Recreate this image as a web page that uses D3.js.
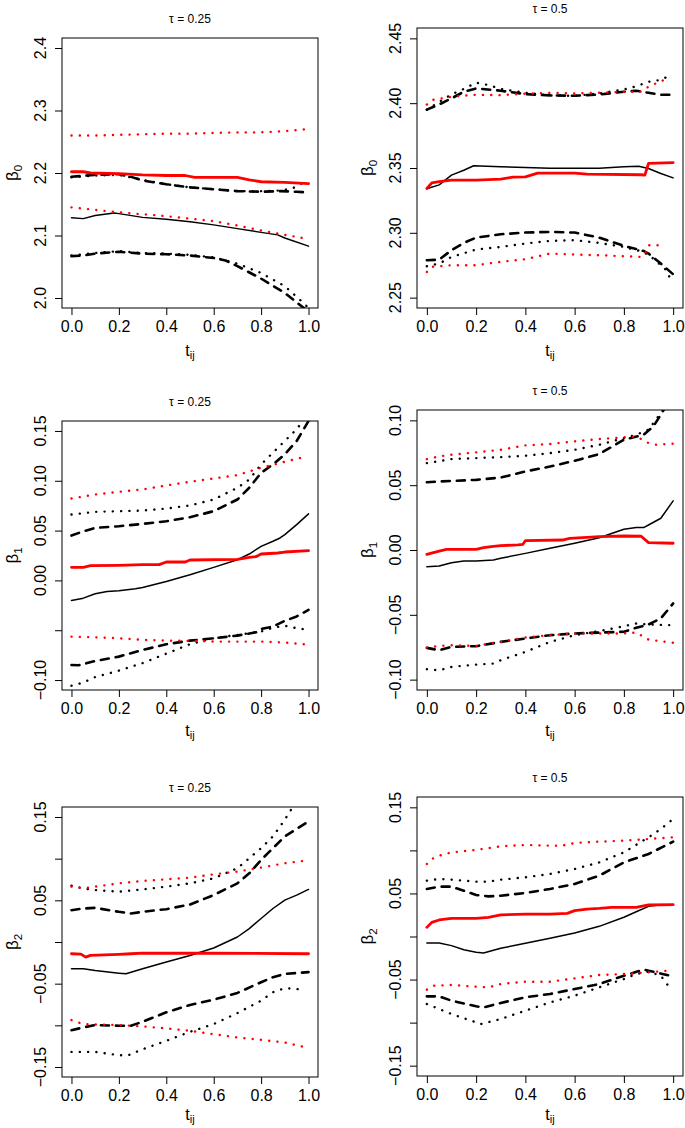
<!DOCTYPE html>
<html>
<head>
<meta charset="utf-8">
<script src="https://cdn.jsdelivr.net/npm/d3@7"></script>
<style>
  body { margin: 0; background: #fff; }
  svg { display: block; font-family: "Liberation Sans", Arial, Helvetica, sans-serif; }
</style>
</head>
<body>
<svg id="chart" width="685" height="1128"></svg>
<script>
// x ticks shared by all panels
const xTicks = [0, 0.2, 0.4, 0.6, 0.8, 1.0];

// ---- beta0, tau = 0.25 ----
const b0_25_est    = [[0,2.1285],[0.05,2.127],[0.1,2.132],[0.18,2.136],[0.2,2.135],[0.3,2.129],[0.4,2.126],[0.5,2.122],[0.6,2.117],[0.7,2.111],[0.8,2.105],[0.87,2.101],[0.9,2.096],[1,2.083]];
const b0_25_dashHi = [[0,2.194],[0.1,2.197],[0.2,2.198],[0.25,2.194],[0.3,2.188],[0.4,2.182],[0.5,2.177],[0.6,2.174],[0.7,2.171],[0.8,2.170],[0.88,2.171],[0.95,2.170],[1,2.169]];
const b0_25_dotHi  = [[0,2.193],[0.1,2.196],[0.2,2.197],[0.3,2.189],[0.4,2.182],[0.5,2.177],[0.6,2.174],[0.7,2.171],[0.8,2.171],[0.88,2.172],[0.93,2.175],[0.97,2.183]];
const b0_25_dashLo = [[0,2.067],[0.05,2.068],[0.1,2.071],[0.2,2.074],[0.3,2.071],[0.4,2.070],[0.5,2.068],[0.6,2.064],[0.65,2.060],[0.7,2.051],[0.8,2.031],[0.9,2.008],[0.96,1.990],[1,1.978]];
const b0_25_dotLo  = [[0,2.068],[0.1,2.072],[0.2,2.075],[0.3,2.072],[0.4,2.071],[0.5,2.069],[0.6,2.065],[0.7,2.055],[0.8,2.040],[0.9,2.019],[0.97,1.995],[1,1.984]];
const b0_25_redEst = [[0,2.202],[0.05,2.202],[0.08,2.200],[0.2,2.199],[0.3,2.197],[0.4,2.196],[0.48,2.196],[0.52,2.193],[0.7,2.193],[0.75,2.189],[0.8,2.186],[0.9,2.185],[1,2.183]];
const b0_25_redHi  = [[0,2.260],[0.1,2.260],[0.2,2.261],[0.3,2.262],[0.4,2.263],[0.5,2.263],[0.6,2.264],[0.7,2.265],[0.8,2.265],[0.9,2.267],[0.99,2.270]];
const b0_25_redLo  = [[0,2.145],[0.1,2.141],[0.2,2.137],[0.3,2.134],[0.4,2.131],[0.5,2.127],[0.6,2.123],[0.7,2.116],[0.8,2.108],[0.9,2.101],[0.99,2.095]];

// ---- beta0, tau = 0.5 ----
const b0_50_est    = [[0,2.334],[0.05,2.337],[0.1,2.3445],[0.15,2.3483],[0.19,2.3517],[0.3,2.3509],[0.4,2.3504],[0.5,2.3499],[0.6,2.3499],[0.7,2.3499],[0.8,2.3509],[0.86,2.3514],[0.9,2.3496],[0.95,2.3458],[1,2.3424]];
const b0_50_dashHi = [[0,2.395],[0.05,2.399],[0.1,2.4037],[0.15,2.4088],[0.2,2.4114],[0.3,2.4096],[0.4,2.407],[0.5,2.406],[0.6,2.4057],[0.7,2.4067],[0.8,2.4088],[0.85,2.4096],[0.9,2.408],[0.95,2.4065],[1,2.4065]];
const b0_50_dotHi  = [[0,2.395],[0.05,2.401],[0.1,2.4068],[0.15,2.411],[0.2,2.4158],[0.25,2.414],[0.3,2.411],[0.4,2.408],[0.5,2.406],[0.6,2.4057],[0.7,2.4075],[0.8,2.4106],[0.85,2.413],[0.9,2.4165],[0.95,2.418],[0.99,2.4217]];
const b0_50_dashLo = [[0,2.2788],[0.05,2.2793],[0.1,2.2866],[0.15,2.2922],[0.2,2.2963],[0.3,2.2989],[0.4,2.3002],[0.5,2.3007],[0.6,2.3002],[0.7,2.2963],[0.8,2.2899],[0.88,2.286],[0.9,2.284],[0.95,2.2763],[1,2.268]];
const b0_50_dotLo  = [[0,2.2742],[0.05,2.2763],[0.1,2.2814],[0.2,2.2871],[0.3,2.2891],[0.4,2.2917],[0.5,2.2938],[0.6,2.2943],[0.7,2.2922],[0.8,2.2891],[0.88,2.2853],[0.92,2.2801],[0.97,2.2716],[0.99,2.2642]];
const b0_50_redEst = [[0,2.3342],[0.02,2.3385],[0.05,2.3395],[0.1,2.3406],[0.2,2.3406],[0.3,2.3414],[0.35,2.343],[0.4,2.3432],[0.45,2.346],[0.6,2.346],[0.65,2.3452],[0.87,2.3448],[0.885,2.3445],[0.9,2.3535],[1,2.3542]];
const b0_50_redHi  = [[0,2.399],[0.02,2.4024],[0.1,2.405],[0.2,2.4065],[0.3,2.4062],[0.4,2.4073],[0.5,2.408],[0.6,2.4075],[0.7,2.408],[0.8,2.4088],[0.87,2.409],[0.9,2.4127],[0.95,2.417],[0.97,2.4183]];
const b0_50_redLo  = [[0,2.2698],[0.02,2.2737],[0.1,2.275],[0.2,2.275],[0.3,2.2776],[0.4,2.2796],[0.5,2.284],[0.6,2.2832],[0.7,2.2827],[0.8,2.2819],[0.87,2.2814],[0.89,2.2853],[0.9,2.2904],[0.97,2.2904]];

// ---- beta1, tau = 0.25 ----
const b1_25_est    = [[0,-0.0201],[0.05,-0.0178],[0.1,-0.0134],[0.15,-0.0111],[0.2,-0.0104],[0.27,-0.0084],[0.3,-0.0071],[0.4,-0.001],[0.5,0.0057],[0.6,0.0131],[0.7,0.0208],[0.75,0.0265],[0.8,0.0342],[0.85,0.0393],[0.88,0.0426],[0.9,0.046],[0.95,0.056],[1,0.0668]];
const b1_25_dashHi = [[0,0.045],[0.05,0.0493],[0.1,0.0527],[0.2,0.0544],[0.3,0.0567],[0.4,0.0594],[0.5,0.0634],[0.6,0.0695],[0.7,0.0812],[0.75,0.093],[0.8,0.108],[0.85,0.1164],[0.9,0.1265],[0.95,0.1399],[1,0.16]];
const b1_25_dotHi  = [[0,0.0661],[0.1,0.0688],[0.2,0.0695],[0.3,0.0701],[0.4,0.0721],[0.5,0.0752],[0.6,0.0812],[0.7,0.093],[0.75,0.1013],[0.8,0.1164],[0.85,0.1282],[0.9,0.14],[0.95,0.1517],[1,0.168]];
const b1_25_dashLo = [[0,-0.0849],[0.03,-0.0852],[0.1,-0.0809],[0.2,-0.0765],[0.3,-0.0698],[0.4,-0.0641],[0.5,-0.0604],[0.6,-0.0581],[0.7,-0.0554],[0.78,-0.052],[0.8,-0.0487],[0.85,-0.0463],[0.9,-0.0406],[0.95,-0.0362],[1,-0.0295]];
const b1_25_dotLo  = [[0,-0.1057],[0.05,-0.1025],[0.1,-0.097],[0.2,-0.0905],[0.3,-0.083],[0.4,-0.0735],[0.5,-0.064],[0.6,-0.058],[0.7,-0.0547],[0.8,-0.0513],[0.85,-0.0475],[0.9,-0.0455],[0.95,-0.048],[1,-0.0497]];
const b1_25_redEst = [[0,0.0131],[0.05,0.0131],[0.08,0.0148],[0.2,0.0151],[0.3,0.0158],[0.37,0.0158],[0.4,0.0185],[0.48,0.0185],[0.5,0.0205],[0.7,0.0211],[0.75,0.0232],[0.78,0.024],[0.8,0.0265],[0.87,0.0275],[0.9,0.0285],[1,0.0299]];
const b1_25_redHi  = [[0,0.0822],[0.1,0.0862],[0.2,0.0889],[0.3,0.0913],[0.4,0.0953],[0.5,0.099],[0.6,0.1023],[0.7,0.1057],[0.8,0.1131],[0.9,0.1191],[0.97,0.1232]];
const b1_25_redLo  = [[0,-0.0564],[0.1,-0.0571],[0.2,-0.0581],[0.3,-0.0597],[0.4,-0.0604],[0.5,-0.0607],[0.6,-0.0614],[0.7,-0.0614],[0.8,-0.0614],[0.9,-0.0624],[0.98,-0.0641]];

// ---- beta1, tau = 0.5 ----
const b1_50_est    = [[0,-0.0129],[0.05,-0.0124],[0.1,-0.0098],[0.15,-0.0085],[0.2,-0.0085],[0.27,-0.0077],[0.3,-0.0064],[0.4,-0.0026],[0.5,0.0013],[0.6,0.0052],[0.7,0.0095],[0.8,0.016],[0.85,0.0173],[0.88,0.0173],[0.9,0.0193],[0.95,0.0245],[1,0.0379]];
const b1_50_dashHi = [[0,0.0523],[0.1,0.0533],[0.2,0.0541],[0.3,0.0559],[0.4,0.0606],[0.5,0.0644],[0.6,0.0688],[0.7,0.074],[0.8,0.085],[0.88,0.0889],[0.92,0.0954],[0.95,0.1044],[1,0.12]];
const b1_50_dotHi  = [[0,0.067],[0.1,0.0701],[0.2,0.0709],[0.3,0.0716],[0.4,0.0727],[0.5,0.0747],[0.6,0.0773],[0.7,0.0812],[0.8,0.0863],[0.85,0.0889],[0.9,0.0928],[0.95,0.1057],[1,0.118]];
const b1_50_dashLo = [[0,-0.0755],[0.05,-0.0773],[0.1,-0.0747],[0.2,-0.0742],[0.3,-0.0709],[0.4,-0.0683],[0.5,-0.0657],[0.6,-0.0644],[0.7,-0.0637],[0.8,-0.0631],[0.85,-0.06],[0.9,-0.0575],[0.95,-0.0528],[1,-0.0412]];
const b1_50_dotLo  = [[0,-0.092],[0.05,-0.0928],[0.1,-0.0902],[0.2,-0.0884],[0.27,-0.0876],[0.3,-0.085],[0.4,-0.0786],[0.5,-0.0709],[0.6,-0.0657],[0.7,-0.0626],[0.8,-0.0588],[0.85,-0.0567],[0.9,-0.0575],[1,-0.058]];
const b1_50_redEst = [[0,-0.0034],[0.05,-0.0008],[0.08,0.0005],[0.2,0.0005],[0.23,0.0018],[0.27,0.0028],[0.3,0.0034],[0.37,0.0039],[0.39,0.0044],[0.4,0.0072],[0.55,0.0077],[0.58,0.009],[0.65,0.0098],[0.7,0.0103],[0.8,0.0108],[0.87,0.0106],[0.9,0.0057],[1,0.0052]];
const b1_50_redHi  = [[0,0.0701],[0.05,0.0722],[0.1,0.0735],[0.2,0.0753],[0.3,0.0773],[0.4,0.0807],[0.5,0.0817],[0.6,0.0838],[0.7,0.0856],[0.8,0.0869],[0.85,0.0876],[0.9,0.0825],[0.93,0.0812],[1,0.082]];
const b1_50_redLo  = [[0,-0.0753],[0.05,-0.074],[0.1,-0.0735],[0.2,-0.074],[0.3,-0.0709],[0.4,-0.0675],[0.5,-0.0657],[0.6,-0.0644],[0.7,-0.0644],[0.8,-0.0644],[0.85,-0.0637],[0.9,-0.0691],[1,-0.0716]];

// ---- beta2, tau = 0.25 ----
const b2_25_est    = [[0,-0.0322],[0.05,-0.0322],[0.1,-0.0342],[0.2,-0.0374],[0.23,-0.0382],[0.3,-0.0322],[0.4,-0.0241],[0.5,-0.0161],[0.6,-0.0072],[0.7,0.006],[0.75,0.0161],[0.8,0.0282],[0.85,0.0402],[0.9,0.0503],[0.95,0.0563],[1,0.0631]];
const b2_25_dashHi = [[0,0.0382],[0.05,0.0402],[0.1,0.041],[0.2,0.0362],[0.25,0.0342],[0.3,0.0362],[0.4,0.0394],[0.5,0.045],[0.6,0.0563],[0.7,0.0704],[0.75,0.0824],[0.8,0.0985],[0.85,0.1126],[0.9,0.1267],[1,0.1448]];
const b2_25_dotHi  = [[0,0.0676],[0.05,0.0643],[0.1,0.0623],[0.2,0.0603],[0.3,0.0631],[0.4,0.0664],[0.5,0.0704],[0.6,0.0764],[0.7,0.0885],[0.8,0.1126],[0.85,0.1267],[0.9,0.1468],[0.92,0.156],[1,0.19]];
const b2_25_dashLo = [[0,-0.1058],[0.05,-0.1025],[0.1,-0.0997],[0.2,-0.1005],[0.25,-0.1005],[0.3,-0.0957],[0.4,-0.0844],[0.5,-0.0756],[0.6,-0.0692],[0.7,-0.0611],[0.8,-0.0483],[0.85,-0.0422],[0.9,-0.0382],[1,-0.0362]];
const b2_25_dotLo  = [[0,-0.1319],[0.1,-0.1319],[0.2,-0.1359],[0.24,-0.1359],[0.3,-0.1287],[0.4,-0.1186],[0.5,-0.1078],[0.6,-0.0985],[0.7,-0.0853],[0.8,-0.0704],[0.85,-0.0603],[0.9,-0.0555],[0.95,-0.0563],[0.98,-0.0583]];
const b2_25_redEst = [[0,-0.0141],[0.04,-0.0145],[0.06,-0.0181],[0.08,-0.0161],[0.2,-0.0149],[0.25,-0.0141],[0.3,-0.0133],[0.6,-0.0135],[1,-0.0141]];
const b2_25_redHi  = [[0,0.0664],[0.05,0.0643],[0.1,0.0664],[0.2,0.0704],[0.3,0.0732],[0.4,0.0752],[0.5,0.0772],[0.6,0.0812],[0.7,0.0845],[0.8,0.0893],[0.9,0.0945],[0.98,0.0973]];
const b2_25_redLo  = [[0,-0.0937],[0.05,-0.0985],[0.1,-0.0989],[0.2,-0.0997],[0.3,-0.1013],[0.4,-0.1037],[0.5,-0.1066],[0.6,-0.1106],[0.7,-0.1146],[0.8,-0.1174],[0.9,-0.1206],[0.98,-0.1259]];

// ---- beta2, tau = 0.5 ----
const b2_50_est    = [[0,-0.0075],[0.05,-0.0075],[0.1,-0.0106],[0.15,-0.0153],[0.2,-0.0184],[0.23,-0.0192],[0.3,-0.0137],[0.4,-0.0079],[0.5,-0.0021],[0.6,0.0041],[0.7,0.0118],[0.8,0.0223],[0.85,0.0288],[0.9,0.035],[0.95,0.037],[1,0.037]];
const b2_50_dashHi = [[0,0.0552],[0.05,0.0579],[0.1,0.0579],[0.15,0.0532],[0.2,0.0482],[0.25,0.0466],[0.3,0.0474],[0.4,0.0505],[0.5,0.0552],[0.6,0.061],[0.7,0.0706],[0.8,0.0861],[0.9,0.0958],[1,0.1101]];
const b2_50_dotHi  = [[0,0.0648],[0.05,0.0668],[0.1,0.066],[0.2,0.0637],[0.25,0.0637],[0.3,0.066],[0.4,0.0687],[0.5,0.0726],[0.6,0.0784],[0.7,0.0861],[0.8,0.0977],[0.9,0.1152],[0.95,0.1248],[1,0.1365]];
const b2_50_dashLo = [[0,-0.0695],[0.05,-0.0695],[0.1,-0.0745],[0.2,-0.0811],[0.23,-0.0823],[0.3,-0.0772],[0.4,-0.0706],[0.5,-0.0668],[0.6,-0.061],[0.7,-0.0552],[0.8,-0.0455],[0.88,-0.0385],[0.9,-0.0397],[1,-0.0463]];
const b2_50_dotLo  = [[0,-0.0784],[0.05,-0.0842],[0.1,-0.09],[0.2,-0.0997],[0.22,-0.1016],[0.3,-0.0958],[0.4,-0.0861],[0.5,-0.0765],[0.6,-0.0687],[0.7,-0.059],[0.8,-0.0494],[0.85,-0.0436],[0.9,-0.0408],[0.95,-0.0455],[0.99,-0.061]];
const b2_50_redEst = [[0,0.0106],[0.02,0.0164],[0.05,0.0192],[0.1,0.0211],[0.2,0.0211],[0.25,0.0223],[0.3,0.025],[0.4,0.0261],[0.5,0.0261],[0.57,0.0269],[0.6,0.03],[0.65,0.0319],[0.7,0.0327],[0.75,0.0339],[0.85,0.0339],[0.9,0.0366],[1,0.037]];
const b2_50_redHi  = [[0,0.0842],[0.02,0.09],[0.05,0.0939],[0.1,0.0977],[0.2,0.1005],[0.3,0.1047],[0.4,0.1063],[0.5,0.1055],[0.55,0.1055],[0.6,0.1086],[0.7,0.1101],[0.8,0.1113],[0.9,0.1132],[1,0.1152]];
const b2_50_redLo  = [[0,-0.0617],[0.03,-0.0571],[0.1,-0.0563],[0.2,-0.0583],[0.25,-0.059],[0.3,-0.0552],[0.4,-0.0525],[0.5,-0.0525],[0.6,-0.0486],[0.7,-0.0447],[0.8,-0.0436],[0.9,-0.0416],[0.98,-0.0397]];

// axis limits / ticks
const b0_25_ylim = [2.0, 2.4],   b0_25_ticks = [2.0, 2.1, 2.2, 2.3, 2.4],  b0_25_labels = ["2.0","2.1","2.2","2.3","2.4"];
const b0_50_ylim = [2.25, 2.45], b0_50_ticks = [2.25, 2.30, 2.35, 2.40, 2.45], b0_50_labels = ["2.25","2.30","2.35","2.40","2.45"];
const b1_25_ylim = [-0.10, 0.15], b1_25_ticks = [-0.10, -0.05, 0, 0.05, 0.10, 0.15], b1_25_labels = ["\u22120.10","","0.00","0.05","0.10","0.15"];
const b1_50_ylim = [-0.10, 0.10], b1_50_ticks = [-0.10, -0.05, 0, 0.05, 0.10], b1_50_labels = ["\u22120.10","\u22120.05","0.00","0.05","0.10"];
const b2_ylim = [-0.15, 0.15], b2_ticks = [-0.15, -0.10, -0.05, 0, 0.05, 0.10, 0.15], b2_labels = ["\u22120.15","","\u22120.05","","0.05","","0.15"];

// panel boxes (plot region in px), xlab = offset of the x label below the box
const panels = [
  { sub: "0", tau: "0.25", box: [62, 318, 38, 308], xlab: 48, ylim: b0_25_ylim, ticks: b0_25_ticks, labels: b0_25_labels,
    s: { est: b0_25_est, dashHi: b0_25_dashHi, dashLo: b0_25_dashLo, dotHi: b0_25_dotHi, dotLo: b0_25_dotLo, redEst: b0_25_redEst, redHi: b0_25_redHi, redLo: b0_25_redLo } },
  { sub: "0", tau: "0.5",  box: [417, 683, 28, 308], xlab: 48, ylim: b0_50_ylim, ticks: b0_50_ticks, labels: b0_50_labels,
    s: { est: b0_50_est, dashHi: b0_50_dashHi, dashLo: b0_50_dashLo, dotHi: b0_50_dotHi, dotLo: b0_50_dotLo, redEst: b0_50_redEst, redHi: b0_50_redHi, redLo: b0_50_redLo } },
  { sub: "1", tau: "0.25", box: [62, 318, 421, 690], xlab: 46, ylim: b1_25_ylim, ticks: b1_25_ticks, labels: b1_25_labels,
    s: { est: b1_25_est, dashHi: b1_25_dashHi, dashLo: b1_25_dashLo, dotHi: b1_25_dotHi, dotLo: b1_25_dotLo, redEst: b1_25_redEst, redHi: b1_25_redHi, redLo: b1_25_redLo } },
  { sub: "1", tau: "0.5",  box: [417, 683, 410, 690], xlab: 46, ylim: b1_50_ylim, ticks: b1_50_ticks, labels: b1_50_labels,
    s: { est: b1_50_est, dashHi: b1_50_dashHi, dashLo: b1_50_dashLo, dotHi: b1_50_dotHi, dotLo: b1_50_dotLo, redEst: b1_50_redEst, redHi: b1_50_redHi, redLo: b1_50_redLo } },
  { sub: "2", tau: "0.25", box: [62, 318, 807, 1077], xlab: 43, ylim: b2_ylim, ticks: b2_ticks, labels: b2_labels,
    s: { est: b2_25_est, dashHi: b2_25_dashHi, dashLo: b2_25_dashLo, dotHi: b2_25_dotHi, dotLo: b2_25_dotLo, redEst: b2_25_redEst, redHi: b2_25_redHi, redLo: b2_25_redLo } },
  { sub: "2", tau: "0.5",  box: [417, 683, 797, 1076], xlab: 44, ylim: b2_ylim, ticks: b2_ticks, labels: b2_labels,
    s: { est: b2_50_est, dashHi: b2_50_dashHi, dashLo: b2_50_dashLo, dotHi: b2_50_dotHi, dotLo: b2_50_dotLo, redEst: b2_50_redEst, redHi: b2_50_redHi, redLo: b2_50_redLo } }
];

// line styles, black drawn first then red
const lineStyles = [
  { key: "dashHi", color: "#000", width: 2.6, dash: "8,7" },
  { key: "dashLo", color: "#000", width: 2.6, dash: "8,7" },
  { key: "dotHi",  color: "#000", width: 2.4, dash: "0.1,8.2" },
  { key: "dotLo",  color: "#000", width: 2.4, dash: "0.1,8.2" },
  { key: "est",    color: "#000", width: 1.5, dash: null },
  { key: "redHi",  color: "#ff0000", width: 2.4, dash: "0.1,8.2" },
  { key: "redLo",  color: "#ff0000", width: 2.4, dash: "0.1,8.2" },
  { key: "redEst", color: "#ff0000", width: 2.8, dash: null }
];

const svg = d3.select("#chart");

panels.forEach((p, i) => {
  const [x0, x1, y0, y1] = p.box;
  const xr = 1.0 * 0.04, yr = (p.ylim[1] - p.ylim[0]) * 0.04;
  const x = d3.scaleLinear().domain([0 - xr, 1 + xr]).range([x0, x1]);
  const y = d3.scaleLinear().domain([p.ylim[0] - yr, p.ylim[1] + yr]).range([y1, y0]);

  const g = svg.append("g");

  g.append("clipPath").attr("id", "clip" + i)
    .append("rect").attr("x", x0).attr("y", y0).attr("width", x1 - x0).attr("height", y1 - y0);

  const line = d3.line().x(d => x(d[0])).y(d => y(d[1]));
  const plot = g.append("g").attr("clip-path", `url(#clip${i})`);

  lineStyles.forEach(st => {
    plot.append("path")
      .datum(p.s[st.key])
      .attr("d", line)
      .attr("fill", "none")
      .attr("stroke", st.color)
      .attr("stroke-width", st.width)
      .attr("stroke-linecap", "round")
      .attr("stroke-linejoin", "round")
      .attr("stroke-dasharray", st.dash);
  });

  // box
  g.append("rect").attr("x", x0).attr("y", y0).attr("width", x1 - x0).attr("height", y1 - y0)
    .attr("fill", "none").attr("stroke", "#000").attr("stroke-width", 1);

  // x axis
  const xAxis = d3.axisBottom(x).tickValues(xTicks).tickSize(7).tickPadding(6).tickFormat(d3.format(".1f"));
  const xa = g.append("g").attr("transform", `translate(0,${y1})`).call(xAxis);
  xa.select(".domain").remove();
  xa.selectAll("text").attr("font-size", 16).attr("fill", "#000").attr("font-family", null);
  xa.selectAll("line").attr("stroke", "#000");

  // y axis (labels parallel to axis, like R)
  const yAxis = d3.axisLeft(y).tickValues(p.ticks).tickSize(7).tickFormat("");
  const ya = g.append("g").attr("transform", `translate(${x0},0)`).call(yAxis);
  ya.select(".domain").remove();
  ya.selectAll("line").attr("stroke", "#000");
  g.selectAll("text.ylab").data(p.ticks.map((t, k) => [t, p.labels[k]])).enter()
    .append("text").attr("class", "ylab")
    .attr("transform", d => `translate(${x0 - 16},${y(d[0])}) rotate(-90)`)
    .attr("text-anchor", "middle").attr("font-size", 16)
    .text(d => d[1]);

  // title
  g.append("text").attr("x", (x0 + x1) / 2).attr("y", y0 - 15)
    .attr("text-anchor", "middle").attr("font-size", 12)
    .text("\u03C4 = " + p.tau);

  // x label t_ij
  const xl = g.append("text").attr("x", (x0 + x1) / 2).attr("y", y1 + p.xlab)
    .attr("text-anchor", "middle").attr("font-size", 16);
  xl.append("tspan").text("t");
  xl.append("tspan").attr("font-size", 11).attr("dy", 3).text("ij");

  // y label beta_k
  const yl = g.append("text")
    .attr("transform", `translate(${x0 - 44},${(y0 + y1) / 2}) rotate(-90)`)
    .attr("text-anchor", "middle").attr("font-size", 17);
  yl.append("tspan").text("\u03B2");
  yl.append("tspan").attr("font-size", 11.5).attr("dy", 4).text(p.sub);
});
</script>
</body>
</html>
